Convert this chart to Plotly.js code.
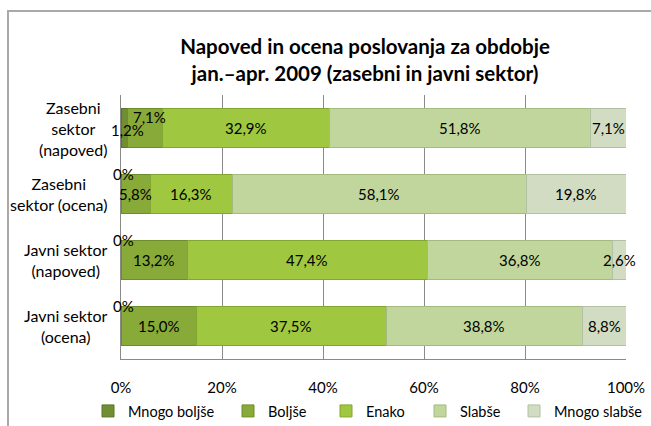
<!DOCTYPE html>
<html>
<head>
<meta charset="utf-8">
<script src="https://cdn.plot.ly/plotly-3.0.1.min.js"></script>
<style>
  html, body { margin: 0; padding: 0; background: #fff; overflow: hidden; }
  #chart { width: 651px; height: 426px; }
  #frame { position: absolute; left: 7px; top: 10px; width: 700px; height: 500px;
           border: 2px solid #a9a9a9; pointer-events: none; z-index: 10; }
</style>
</head>
<body>
<div id="frame"></div>
<div id="chart"></div>
<script>
// ---- data ----
const categories = [
  'Zasebni<br>sektor<br>(napoved)',
  'Zasebni<br>sektor (ocena)',
  'Javni sektor<br>(napoved)',
  'Javni sektor<br>(ocena)'
];
const seriesNames = ['Mnogo boljše', 'Boljše', 'Enako', 'Slabše', 'Mnogo slabše'];
const mnogoBoljse = [1.2, 0, 0, 0];
const boljse      = [7.1, 5.8, 13.2, 15.0];
const enako       = [32.9, 16.3, 47.4, 37.5];
const slabse      = [51.8, 58.1, 36.8, 38.8];
const mnogoSlabse = [7.1, 19.8, 2.6, 8.8];
const xTicks = [0, 20, 40, 60, 80, 100];

const series = [mnogoBoljse, boljse, enako, slabse, mnogoSlabse];
const colors = ['#718e33', '#87aa38', '#9fc840', '#c1d69c', '#d1dcc2'];
const lineColors = ['#5a7428', '#6d8d2b', '#83a532', '#a4ba80', '#b3c1a3'];

const FONT = 'Lato, "Open Sans", sans-serif';
const LBL = 15;
const fmt = v => v.toFixed(1).replace('.', ',') + '%';

// label nudges (px) for crowded / zero-width segments
const nudged = { '0-0': { dx: 3, dy: 2 }, '1-0': { dx: 5, dy: -11 } };
const legendX = [88, 228, 326, 420, 514];

const traces = [];
const annotations = [];
const cum = categories.map(() => 0);

series.forEach((vals, s) => {
  vals.forEach((v, r) => {
    const key = s + '-' + r;
    const start = cum[r];
    if (v === 0) {
      annotations.push({ x: start, y: categories[r], xref: 'x', yref: 'y', text: '0%',
        showarrow: false, xanchor: 'center', yanchor: 'middle', xshift: 2, yshift: 20,
        font: { family: FONT, size: LBL, color: '#000' } });
    } else {
      const n = nudged[key] || { dx: 0, dy: 0 };
      annotations.push({ x: start + v / 2, y: categories[r], xref: 'x', yref: 'y', text: fmt(v),
        showarrow: false, xanchor: 'center', yanchor: 'middle',
        xshift: n.dx, yshift: -n.dy,
        font: { family: FONT, size: LBL, color: '#000' } });
    }
  });
  vals.forEach((v, r) => { cum[r] += v; });
  traces.push({
    type: 'bar', orientation: 'h', name: seriesNames[s],
    legend: s === 0 ? 'legend' : 'legend' + (s + 1),
    y: categories, x: vals,
    marker: { color: colors[s], line: { color: lineColors[s], width: 1 } },
    hoverinfo: 'x+name'
  });
});

categories.forEach(c => {
  annotations.push({ x: 0, xref: 'paper', y: c, yref: 'y', text: c, showarrow: false,
    xanchor: 'right', yanchor: 'middle', align: 'center', xshift: -11,
    font: { family: FONT, size: 16, color: '#000' } });
});

const layout = {
  width: 651, height: 426,
  margin: { l: 121, r: 25, t: 95, b: 67 },
  paper_bgcolor: '#fff', plot_bgcolor: '#fff',
  separators: ',.',
  barmode: 'stack', bargap: 0.41,
  showlegend: true,
  title: {
    text: '<b>Napoved in ocena poslovanja za obdobje<br>jan.–apr. 2009 (zasebni in javni sektor)</b>',
    font: { family: FONT, size: 20.5, color: '#000' },
    x: 365 / 651, xanchor: 'center', xref: 'container',
    y: 1 - 54 / 426, yanchor: 'top', yref: 'container'
  },
  xaxis: {
    range: [0, 100], tickvals: xTicks, ticktext: xTicks.map(t => t + '%'),
    showgrid: true, gridcolor: '#8a8a8a', gridwidth: 1, zeroline: false,
    showline: true, linecolor: '#8a8a8a', linewidth: 1,
    ticks: '', ticklabelstandoff: 15,
    tickfont: { family: FONT, size: 15, color: '#000' }, fixedrange: true
  },
  yaxis: {
    type: 'category', autorange: 'reversed', showticklabels: false,
    showline: true, linecolor: '#8a8a8a', linewidth: 1, showgrid: false, zeroline: false,
    ticks: '', fixedrange: true
  },
  annotations: annotations
};

legendX.forEach((lx, s) => {
  layout[s === 0 ? 'legend' : 'legend' + (s + 1)] = {
    orientation: 'h', xref: 'container', yref: 'container',
    x: lx / 651, y: 1 - 411 / 426, xanchor: 'left', yanchor: 'middle',
    font: { family: FONT, size: 14.5, color: '#000' }, bgcolor: 'rgba(0,0,0,0)'
  };
});

Plotly.newPlot('chart', traces, layout, { displayModeBar: false, staticPlot: true });
</script>
</body>
</html>
